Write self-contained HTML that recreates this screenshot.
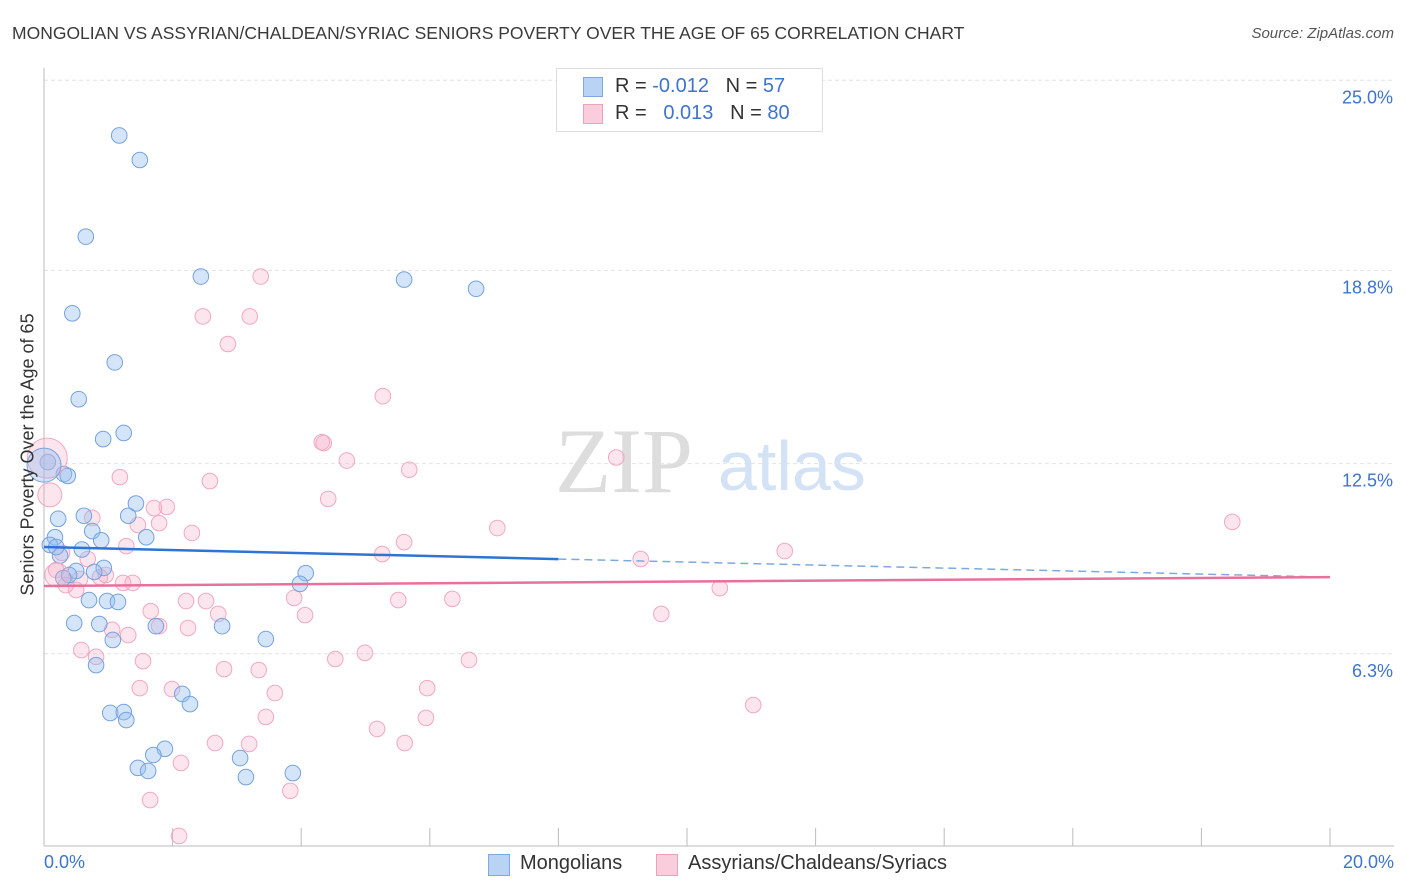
<!DOCTYPE html>
<html><head><meta charset="utf-8"><style>
body{margin:0;background:#fff;font-family:"Liberation Sans",sans-serif;}
#wrap{position:relative;width:1406px;height:892px;overflow:hidden;}
.t{position:absolute;white-space:nowrap;}
</style></head><body>
<div id="wrap">
<div class="t" style="left:12px;top:23px;font-size:17.5px;color:#3a3a3a;">MONGOLIAN VS ASSYRIAN/CHALDEAN/SYRIAC SENIORS POVERTY OVER THE AGE OF 65 CORRELATION CHART</div>
<div class="t" style="right:12px;top:25px;font-size:15px;color:#555;font-style:italic;">Source: ZipAtlas.com</div>
<svg id="svg" width="1406" height="892" style="position:absolute;left:0;top:0"></svg>
</div>
<script>
const yTicks=[6.3,12.5,18.8,25.0];
const yTickLabels=["6.3%","12.5%","18.8%","25.0%"];
const xTickCount=10;
const blueX=[1.17,1.49,0.65,2.44,5.6,6.72,0.44,1.10,0.54,1.24,0.92,0.06,0.31,0.37,1.43,0.22,0.62,1.31,0.75,1.59,0.89,0.17,0.09,0.59,0.25,0.50,0.93,4.07,0.78,0.39,0.30,3.98,0.70,0.98,1.15,0.47,0.86,1.74,2.77,1.07,3.45,0.81,2.15,2.27,1.03,1.24,1.28,1.88,1.70,3.05,1.46,1.62,3.14,3.87,0.19];
const blueY=[23.2,22.4,19.9,18.6,18.5,18.2,17.4,15.8,14.6,13.5,13.3,12.55,12.16,12.1,11.2,10.7,10.8,10.8,10.3,10.1,10.0,10.1,9.85,9.7,9.5,9.0,9.1,8.93,8.97,8.87,8.77,8.58,8.05,8.02,7.99,7.3,7.27,7.2,7.2,6.75,6.78,5.93,4.99,4.66,4.37,4.4,4.14,3.2,3.0,2.9,2.58,2.48,2.28,2.41,9.78];
const pinkX=[3.37,2.47,3.20,2.86,5.27,4.32,4.35,4.71,8.90,5.68,1.18,2.58,4.42,1.91,1.71,0.75,7.05,18.48,1.46,1.79,2.30,5.60,1.28,11.52,5.26,9.28,0.28,0.68,0.19,0.96,0.56,0.87,1.23,1.38,0.34,0.50,10.51,3.89,2.21,2.52,5.51,6.35,1.66,2.71,4.06,9.60,1.79,2.24,1.06,1.31,0.58,0.81,1.54,4.53,4.99,6.61,2.80,3.34,1.49,1.99,5.96,3.59,11.03,3.45,5.94,5.18,2.66,3.19,5.61,2.13,3.83,1.65,2.10];
const pinkY=[18.6,17.3,17.3,16.4,14.7,13.2,13.17,12.6,12.7,12.3,12.06,11.93,11.35,11.09,11.05,10.73,10.4,10.6,10.5,10.56,10.24,9.94,9.81,9.65,9.55,9.39,9.59,9.39,9.03,8.87,8.74,8.8,8.61,8.61,8.54,8.38,8.44,8.12,8.02,8.02,8.05,8.09,7.69,7.6,7.56,7.6,7.2,7.14,7.08,6.91,6.42,6.2,6.06,6.13,6.33,6.1,5.8,5.77,5.18,5.15,5.18,5.02,4.63,4.24,4.21,3.85,3.39,3.36,3.39,2.74,1.83,1.53,0.36];
const bigBlue=[[0,12.45,17]];
const bigPink=[[0.05,12.68,20],[0.09,11.48,12],[0.2,8.87,12]];
const blueTrend=[9.78,8.80];
const pinkTrend=[8.51,8.80];
const NS="http://www.w3.org/2000/svg";
const svg=document.getElementById('svg');
const X=v=>44+v*64.3, Y=v=>847-v*30.67;
function mk(tag,a,p){const e=document.createElementNS(NS,tag);for(const k in a)e.setAttribute(k,a[k]);(p||svg).appendChild(e);return e;}
yTicks.forEach((t,i)=>{
 const g=mk('line',{x1:44,x2:1394,y1:Y(t),y2:Y(t),stroke:'#e2e2e2','stroke-dasharray':'4,3'});
 
 
 const tx=mk('text',{x:1393,y:Y(t)+23,'text-anchor':'end','font-size':18,fill:'#3d74cc','font-family':'Liberation Sans'});
 tx.textContent=yTickLabels[i];
 
 
});
const ax=mk('line',{x1:44,x2:44,y1:68,y2:846,stroke:'#bbb'});


const bx=mk('line',{x1:44,x2:1394,y1:846,y2:846,stroke:'#bbb'});


for(let i=1;i<=xTickCount;i++){const l=mk('line',{x1:X(i*2),x2:X(i*2),y1:828,y2:846,stroke:'#bbb'});
 
 }
const wm=mk('text',{x:555,y:492,'font-size':92,fill:'#ddd','font-family':'Liberation Serif'});wm.textContent='ZIP';


const wm2=mk('text',{x:718,y:490,'font-size':70,fill:'#d3e2f5','font-family':'Liberation Sans'});wm2.textContent='atlas';


function dots(xs,ys,fill,stroke,name){xs.forEach((v,i)=>{const c=mk('circle',{cx:X(v),cy:Y(ys[i]),r:7.8,fill:fill,stroke:stroke,'stroke-width':1});
 
 });}
dots(pinkX,pinkY,'rgba(244,170,196,0.3)','#f2a8c2','assyrian-point');
dots(blueX,blueY,'rgba(150,190,240,0.4)','#74a2de','mongolian-point');
bigPink.forEach(b=>{const c=mk('circle',{cx:X(b[0]),cy:Y(b[1]),r:b[2],fill:'rgba(244,170,196,0.3)',stroke:'#f2a8c2'});
 
 });
bigBlue.forEach(b=>{const c=mk('circle',{cx:X(b[0]),cy:Y(b[1]),r:b[2],fill:'rgba(150,190,240,0.4)',stroke:'#74a2de'});
 
 });
const bm=blueTrend[0]+(blueTrend[1]-blueTrend[0])*0.4;
const t1=mk('line',{x1:X(0),y1:Y(blueTrend[0]),x2:X(8),y2:Y(bm),stroke:'#2d74d4','stroke-width':2.5});


const t2=mk('line',{x1:X(8),y1:Y(bm),x2:X(20),y2:Y(blueTrend[1]),stroke:'#7ea9e0','stroke-width':1.5,'stroke-dasharray':'8,5'});


const t3=mk('line',{x1:X(0),y1:Y(pinkTrend[0]),x2:X(20),y2:Y(pinkTrend[1]),stroke:'#e8719b','stroke-width':2.5});


</script>
<div class="t" style="left:-122px;top:444px;transform:rotate(-90deg);width:300px;text-align:center;font-size:18px;color:#333;">Seniors Poverty Over the Age of 65</div>
<div class="t" style="left:44px;top:852px;font-size:18px;color:#3d74cc;">0.0%</div>
<div class="t" style="right:12px;top:852px;font-size:18px;color:#3d74cc;">20.0%</div>
<div style="position:absolute;left:556px;top:68px;width:265px;height:62px;border:1px solid #ddd;background:#fff;font-size:20px;color:#333;">
 <div style="position:absolute;left:26px;top:8px;width:18px;height:18px;background:#b9d3f4;border:1px solid #7ea9e0;"></div>
 <div class="t" style="left:58px;top:6px;">R = <span style="color:#3d74cc">-0.012</span>&nbsp;&nbsp;&nbsp;N = <span style="color:#3d74cc">57</span></div>
 <div style="position:absolute;left:26px;top:35px;width:18px;height:18px;background:#f9cddb;border:1px solid #f0a0bc;"></div>
 <div class="t" style="left:58px;top:33px;">R = &nbsp;&nbsp;<span style="color:#3d74cc">0.013</span>&nbsp;&nbsp;&nbsp;N = <span style="color:#3d74cc">80</span></div>
</div>
<div style="position:absolute;left:488px;top:852px;font-size:20px;color:#333;">
 <div style="position:absolute;left:0;top:2px;width:20px;height:20px;background:#b9d3f4;border:1px solid #7ea9e0;"></div>
 <div class="t" style="left:32px;top:0;">Mongolians</div>
 <div style="position:absolute;left:168px;top:2px;width:20px;height:20px;background:#f9cddb;border:1px solid #f0a0bc;"></div>
 <div class="t" style="left:200px;top:0;">Assyrians/Chaldeans/Syriacs</div>
</div>
</body></html>
